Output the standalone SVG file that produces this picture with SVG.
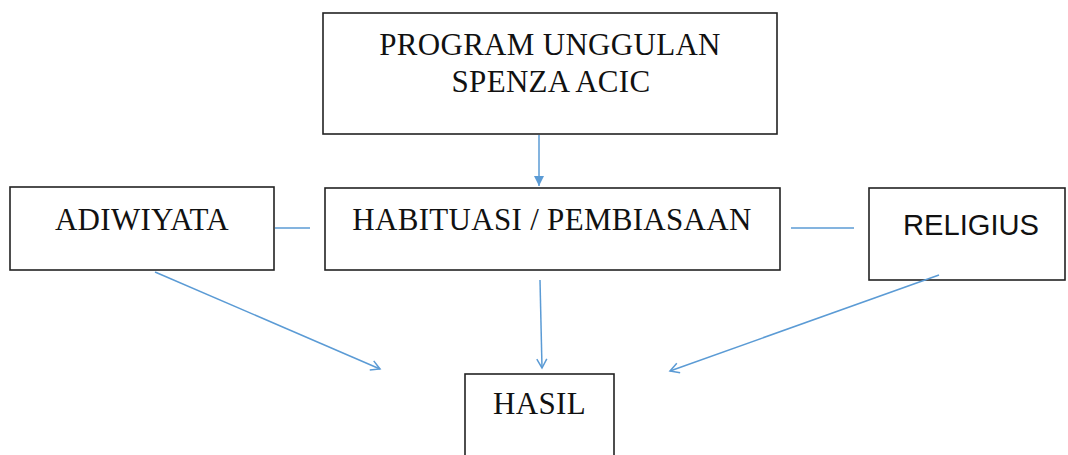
<svg xmlns="http://www.w3.org/2000/svg" width="1068" height="455" viewBox="0 0 1068 455">
<style>
.box{fill:#fff;stroke:#222;stroke-width:1.6}
.t{font-family:"Liberation Serif","Times New Roman",serif;font-size:31px;fill:#111;text-anchor:middle;letter-spacing:0.3px}
.s{font-family:"Liberation Sans",Arial,sans-serif;font-size:30px;fill:#111;text-anchor:middle}
.c{stroke:#5B9BD5;stroke-width:1.5;fill:none}
</style>
<defs>
<marker id="fill" markerWidth="12" markerHeight="12" refX="10" refY="5" orient="auto" markerUnits="userSpaceOnUse">
<path d="M0,0 L10,5 L0,10 Z" fill="#5B9BD5"/>
</marker>
<marker id="open" markerWidth="14" markerHeight="14" refX="10" refY="6" orient="auto" markerUnits="userSpaceOnUse">
<path d="M1,1 L10,6 L1,11" fill="none" stroke="#5B9BD5" stroke-width="1.5"/>
</marker>
</defs>
<g id="program">
<rect class="box" x="323" y="13" width="454" height="121"/>
<text class="t" x="550" y="55">PROGRAM UNGGULAN</text>
<text class="t" x="551" y="92">SPENZA ACIC</text>
</g>
<g id="adiwiyata">
<rect class="box" x="10" y="187" width="264" height="83"/>
<text class="t" x="142" y="230">ADIWIYATA</text>
</g>
<g id="habituasi">
<rect class="box" x="325" y="188" width="455" height="82"/>
<text class="t" x="552" y="230">HABITUASI / PEMBIASAAN</text>
</g>
<g id="religius">
<rect class="box" x="869" y="188" width="196" height="92"/>
<text class="s" x="971" y="235" textLength="136" lengthAdjust="spacingAndGlyphs">RELIGIUS</text>
</g>
<g id="hasil">
<rect class="box" x="465" y="374" width="149" height="90"/>
<text class="t" x="539.5" y="414">HASIL</text>
</g>
<g id="connectors">
<line class="c" x1="539" y1="135" x2="539" y2="186" marker-end="url(#fill)"/>
<line class="c" x1="275" y1="228" x2="310" y2="228"/>
<line class="c" x1="791" y1="228" x2="854" y2="228"/>
<line class="c" x1="155" y1="272" x2="380" y2="369" marker-end="url(#open)"/>
<line class="c" x1="540" y1="280" x2="542" y2="368" marker-end="url(#open)"/>
<line class="c" x1="939" y1="275" x2="670" y2="371" marker-end="url(#open)"/>
</g>
</svg>
